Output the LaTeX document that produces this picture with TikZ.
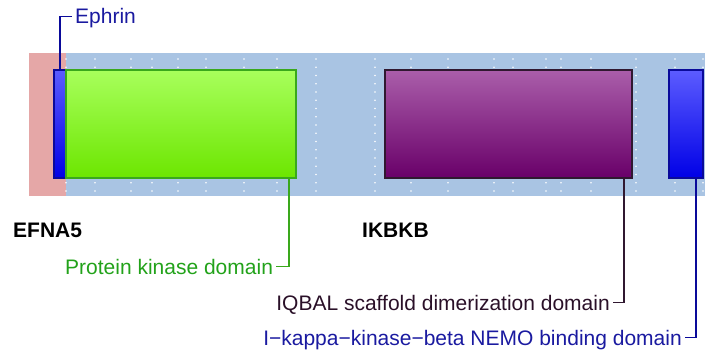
\documentclass[tikz,border=0pt]{standalone}
\usepackage{fontspec}
\setmainfont{Liberation Sans}
\definecolor{pinkbg}{HTML}{E5A7A7}
\definecolor{bluebg}{HTML}{A9C4E3}
\definecolor{greentop}{HTML}{A8FF5C}
\definecolor{greenbot}{HTML}{6CE600}
\definecolor{greenln}{HTML}{3AA81C}
\definecolor{purtop}{HTML}{AA5EAA}
\definecolor{purbot}{HTML}{690069}
\definecolor{purln}{HTML}{301830}
\definecolor{bluetop}{HTML}{5C5CFF}
\definecolor{bluebot}{HTML}{0000E6}
\definecolor{blueln}{HTML}{0A0A9A}
\definecolor{lblgreen}{HTML}{22A21A}
\definecolor{lblpur}{HTML}{2A1028}
\definecolor{lblblue}{HTML}{1A1AA0}
\begin{document}
\begin{tikzpicture}[x=1pt,y=-1pt,
  box/.style={draw, line width=1.2pt, anchor=north west, inner sep=0pt, outer sep=0pt, minimum height=108pt},
  lbl/.style={inner sep=0pt, text height=15pt, text depth=0pt, font=\fontsize{21}{25}\selectfont},
  gene/.style={inner sep=0pt, anchor=base west, font=\fontsize{21}{25}\selectfont\bfseries},
  conn/.style={line width=1.5pt}]
\useasboundingbox (0,0) rectangle (705,350);
% background bands
\fill[pinkbg] (29,53) rectangle (66,196);
\fill[bluebg] (66,53) rectangle (705,196);
% dotted grid lines
\foreach \x in {66,95,131,152,178,206,244,277,316,375,411,448,494,513,546,561,591,636,675,703}{
  \foreach \k in {0,...,16}{
    \fill[white] (\x,59+\k*8.25) circle (0.9pt);
  }
}
% domain boxes
\node[box, draw=blueln, top color=bluetop, bottom color=bluebot, minimum width=12pt] (ephrin) at (54,70) {};
\node[box, draw=greenln, top color=greentop, bottom color=greenbot, minimum width=230pt] (pk) at (66,70) {};
\node[box, draw=purln, top color=purtop, bottom color=purbot, minimum width=247pt] (iqbal) at (385,70) {};
\node[box, draw=blueln, top color=bluetop, bottom color=bluebot, minimum width=34pt] (nemo) at (669,70) {};
% gene names
\node[gene] (efna5) at (13,237) {EFNA5};
\node[gene] (ikbkb) at (362,237) {IKBKB};
% labels
\node[lbl, text=lblblue, anchor=base west] (lephrin) at (75,24) {Ephrin};
\node[lbl, text=lblgreen, anchor=base west] (lpk) at (65,274) {Protein kinase domain};
\node[lbl, text=lblpur, anchor=base east] (liqbal) at (610,310) {IQBAL scaffold dimerization domain};
\node[lbl, text=lblblue, anchor=base east] (lnemo) at (682,345) {I\char"2212 kappa\char"2212 kinase\char"2212 beta NEMO binding domain};
% connector anchors on box bottoms
\coordinate (pkb) at (289,178);
\coordinate (iqb) at (624,178);
\coordinate (nmb) at (696,178);
% connectors
\draw[conn, blueln] ([xshift=-3pt]lephrin.west) -| (ephrin.north);
\draw[conn, greenln] ([xshift=3pt]lpk.east) -| (pkb);
\draw[conn, purln] ([xshift=3pt]liqbal.east) -| (iqb);
\draw[conn, blueln] ([xshift=3pt]lnemo.east) -| (nmb);
\end{tikzpicture}
\end{document}
